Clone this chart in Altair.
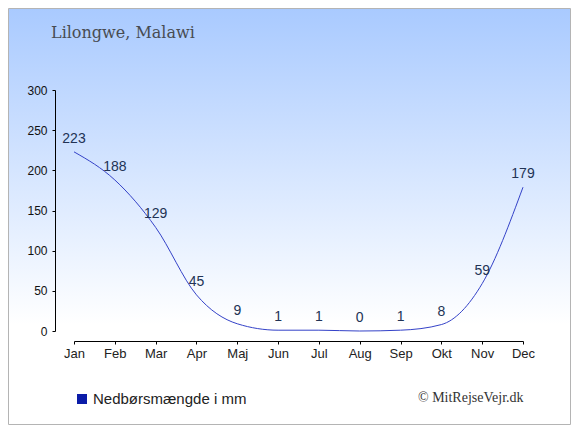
import altair as alt
import pandas as pd

months = ["Jan", "Feb", "Mar", "Apr", "Maj", "Jun", "Jul", "Aug", "Sep", "Okt", "Nov", "Dec"]
rain = [223, 188, 129, 45, 9, 1, 1, 0, 1, 8, 59, 179]
y_ticks = [0, 50, 100, 150, 200, 250, 300]
title_text = "Lilongwe, Malawi"
legend_text = "Nedbørsmængde i mm"
credit_text = "© MitRejseVejr.dk"

df = pd.DataFrame({"month": months, "rain": rain})
one = pd.DataFrame({"k": [0]})

W, H = 449, 241
PL, PT, PR, PB = 66, 82, 48, 94

bg = alt.Chart(one).mark_rect(
    color=alt.Gradient(
        gradient="linear",
        stops=[alt.GradientStop(color="#a9caff", offset=0),
               alt.GradientStop(color="#ffffff", offset=0.76)],
        x1=0, x2=0, y1=0, y2=1),
    stroke="#b4b4b4", strokeWidth=1,
).encode(
    x=alt.value(-PL + 0.5), x2=alt.value(W + PR - 0.5),
    y=alt.value(-PT + 0.5), y2=alt.value(H + PB - 0.5),
)

xscale = alt.Scale(type="point", padding=0)
yscale = alt.Scale(domain=[0, 300], nice=False)

xenc = alt.X("month:N", sort=months, title=None, scale=xscale,
             axis=alt.Axis(labelAngle=0, offset=10, tickSize=3, labelPadding=3,
                           labelFont="Liberation Sans", labelFontSize=13,
                           labelColor="#222222", domainColor="#000000",
                           tickColor="#000000", grid=False, zindex=1))
yenc = alt.Y("rain:Q", title=None, scale=yscale,
             axis=alt.Axis(values=y_ticks, offset=19, tickSize=3, labelPadding=5,
                           labelFont="Liberation Sans", labelFontSize=12,
                           labelColor="#111111", domainColor="#000000",
                           tickColor="#000000", grid=False, zindex=1))

line = alt.Chart(df).mark_line(
    interpolate="monotone", color="#3442c8", strokeWidth=1
).encode(x=xenc, y=yenc)

labels = alt.Chart(df).mark_text(
    dy=-9, baseline="alphabetic", align="center",
    font="Liberation Sans", fontSize=14, color="#223355"
).encode(x=xenc, y=yenc, text="rain:Q")

title = alt.Chart(one).mark_text(
    align="left", baseline="alphabetic", font="DejaVu Serif",
    fontSize=16, color="#484c52"
).encode(x=alt.value(51 - 8 - PL), y=alt.value(38 - 8 - PT), text=alt.value(title_text))

leg_sq = alt.Chart(one).mark_square(
    size=100, color="#0b1ca8", opacity=1
).encode(x=alt.value(82 - 8 - PL), y=alt.value(399 - 8 - PT))

leg_txt = alt.Chart(one).mark_text(
    align="left", baseline="alphabetic", font="Liberation Sans",
    fontSize=15, color="#222222"
).encode(x=alt.value(93 - 8 - PL), y=alt.value(404 - 8 - PT), text=alt.value(legend_text))

credit = alt.Chart(one).mark_text(
    align="left", baseline="alphabetic", font="Liberation Serif",
    fontSize=14, color="#333333"
).encode(x=alt.value(418 - 8 - PL), y=alt.value(402 - 8 - PT), text=alt.value(credit_text))

chart = alt.layer(bg, line, labels, title, leg_sq, leg_txt, credit).properties(
    width=W, height=H,
    autosize=alt.AutoSizeParams(type="none"),
    padding={"left": PL, "top": PT, "right": PR, "bottom": PB},
).configure_view(stroke=None).configure(background="white")

chart.save("out.html", embed_options={"renderer": "svg", "actions": False})
